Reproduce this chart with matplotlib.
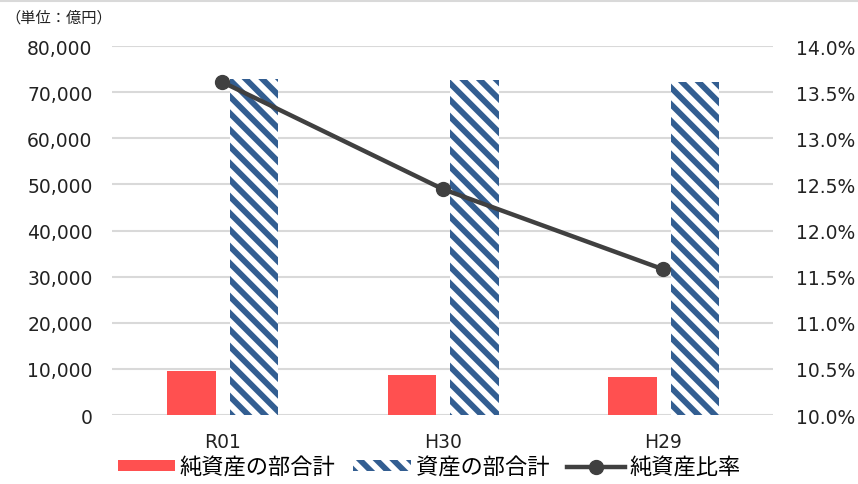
import numpy as np
import matplotlib.pyplot as plt
from matplotlib.lines import Line2D
from matplotlib.ticker import FuncFormatter

plt.rcParams['font.family'] = ['Noto Sans CJK JP', 'DejaVu Sans']
plt.rcParams['hatch.linewidth'] = 4.2

# 億円 / %
years = ["R01", "H30", "H29"]
net_assets = [9500, 8700, 8250]
total_assets = [72900, 72700, 72300]
net_ratio = [13.61, 12.45, 11.58]

RED = "#FF5050"
BLUE = "#335E91"
LINE = "#404040"
GRID = "#D9D9D9"
NUM_FONT = ['DejaVu Sans']

fig = plt.figure(figsize=(8.58, 4.85), dpi=100)
ax = fig.add_axes([0.1305, 0.142, 0.771, 0.761])
ax2 = ax.twinx()

x = np.arange(len(years))
w = 0.22
b1 = ax.bar(x - 0.14, net_assets, w, color=RED, linewidth=0, label="純資産の部合計")
b2 = ax.bar(x + 0.145, total_assets, w, facecolor="white", edgecolor=BLUE,
            hatch="\\\\", linewidth=0, label="資産の部合計")
ln, = ax2.plot(x, net_ratio, color=LINE, lw=3.2, marker="o", ms=10,
               label="純資産比率")

ax.set_xlim(-0.5, 2.5)
ax.set_ylim(0, 80000)
ax.set_yticks(np.arange(0, 80001, 10000))
ax.yaxis.set_major_formatter(FuncFormatter(lambda v, p: f"{int(v):,}"))
ax2.set_ylim(10.0, 14.0)
ax2.set_yticks(np.arange(10.0, 14.01, 0.5))
ax2.yaxis.set_major_formatter(FuncFormatter(lambda v, p: f"{v:.1f}%"))

ax.set_xticks(x)
ax.set_xticklabels(years)
ax.grid(axis="y", color=GRID, lw=1.5)
ax.set_axisbelow(True)
for a in (ax, ax2):
    for s in a.spines.values():
        s.set_visible(False)
ax.tick_params(axis="both", length=0, labelsize=13.5, colors="#222222")
ax.tick_params(axis="y", pad=14)
ax.tick_params(axis="x", pad=12)
ax2.tick_params(axis="y", length=0, labelsize=13.5, colors="#222222", pad=16)
for t in ax.get_xticklabels() + ax.get_yticklabels() + ax2.get_yticklabels():
    t.set_family(NUM_FONT)

fig.text(0.006, 0.962, "（単位：億円）", fontsize=11, color="#222222", va="center")
fig.add_artist(Line2D([0, 1], [0.995, 0.995], color=GRID, lw=1.5,
                      transform=fig.transFigure))

fig.legend([b1, b2, ln], [b1.get_label(), b2.get_label(), ln.get_label()],
           loc="center", bbox_to_anchor=(0.5, 0.035), ncol=3, frameon=False,
           fontsize=16, handlelength=2.6, handleheight=0.35, handletextpad=0.2,
           columnspacing=0.8)

fig.savefig("out.png", dpi=100)
